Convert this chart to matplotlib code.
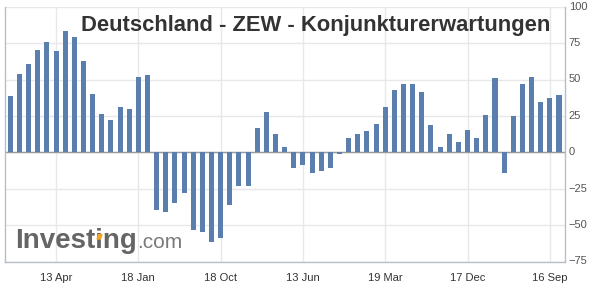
import matplotlib
matplotlib.use("Agg")
import matplotlib.pyplot as plt
from matplotlib.patches import Polygon

plt.rcParams["font.family"] = ["Liberation Sans", "DejaVu Sans"]

# ZEW economic expectations, one value per release
values = [38.4, 54.1, 60.9, 70.5, 75.9, 69.8, 83.4, 79.3, 63.0, 39.8,
          26.1, 22.0, 30.9, 29.5, 51.4, 53.4, -39.3, -40.7, -34.5, -28.2,
          -53.4, -54.8, -61.6, -58.9, -36.4, -23.4, -23.4, 16.8, 27.5, 12.5,
          3.9, -10.5, -8.4, -14.5, -12.5, -11.1, -0.9, 10.0, 12.7, 14.5,
          19.5, 30.9, 42.5, 46.6, 46.6, 41.1, 18.6, 3.6, 12.5, 7.0,
          15.2, 9.8, 25.5, 50.7, -14.1, 24.8, 46.6, 52.0, 34.3, 37.0, 39.1]
tick_pos = [5, 14, 23, 32, 41, 50, 59]
tick_labels = ["13 Apr", "18 Jan", "18 Oct", "13 Jun", "19 Mar", "17 Dec", "16 Sep"]
y_ticks = [-75, -50, -25, 0, 25, 50, 75, 100]

W, H = 591, 293
fig = plt.figure(figsize=(W / 100, H / 100), dpi=100)
ax = fig.add_axes([5 / W, (H - 261.5) / H, (564.5 - 5) / W, (261.5 - 6.7) / H])

x = list(range(len(values)))
ax.bar(x, values, width=0.55, color="#5a7fae", zorder=3)
ax.axhline(0, color="#9a9a9a", lw=1, zorder=2)

ax.set_xlim(-0.58, len(values) - 1 + 0.6)
ax.set_ylim(-75, 100)
ax.set_yticks(y_ticks)
ax.set_xticks(tick_pos)
ax.set_xticklabels(tick_labels)
ax.yaxis.tick_right()
ax.tick_params(axis="y", length=0, pad=3, labelsize=8, labelcolor="#555555")
ax.tick_params(axis="x", length=0, pad=8, labelsize=8, labelcolor="#333333")
for lbl in ax.get_yticklabels():
    lbl.set_va("center")

ax.grid(True, color="#e8e8e8", lw=1, zorder=0)
ax.spines["top"].set_visible(False)
for s in ["left", "bottom", "right"]:
    ax.spines[s].set_color("#b8bec6")
    ax.spines[s].set_linewidth(1)

# title
fig.text(550 / W, 1 - 31 / H, "Deutschland - ZEW - Konjunkturerwartungen",
         ha="right", va="baseline", fontsize=15.8, fontweight="bold", color="#333333")

# watermark
t = fig.text(15 / W, 1 - 248 / H, "Investing", ha="left", va="baseline",
             fontsize=20, fontweight="bold", color="#656565")
fig.canvas.draw()
bb = t.get_window_extent()
fig.text(bb.x1 / W, 1 - 248 / H, ".com", ha="left", va="baseline",
         fontsize=15, color="#7a7a7a")
fig.patches.append(Polygon([(97 / W, 1 - 239 / H), (100.5 / W, 1 - 239 / H),
                            (102 / W, 1 - 234.5 / H), (98.5 / W, 1 - 234.5 / H)],
                           closed=True, transform=fig.transFigure,
                           color="#f5a623", zorder=5))

fig.savefig("out.png", dpi=100)
